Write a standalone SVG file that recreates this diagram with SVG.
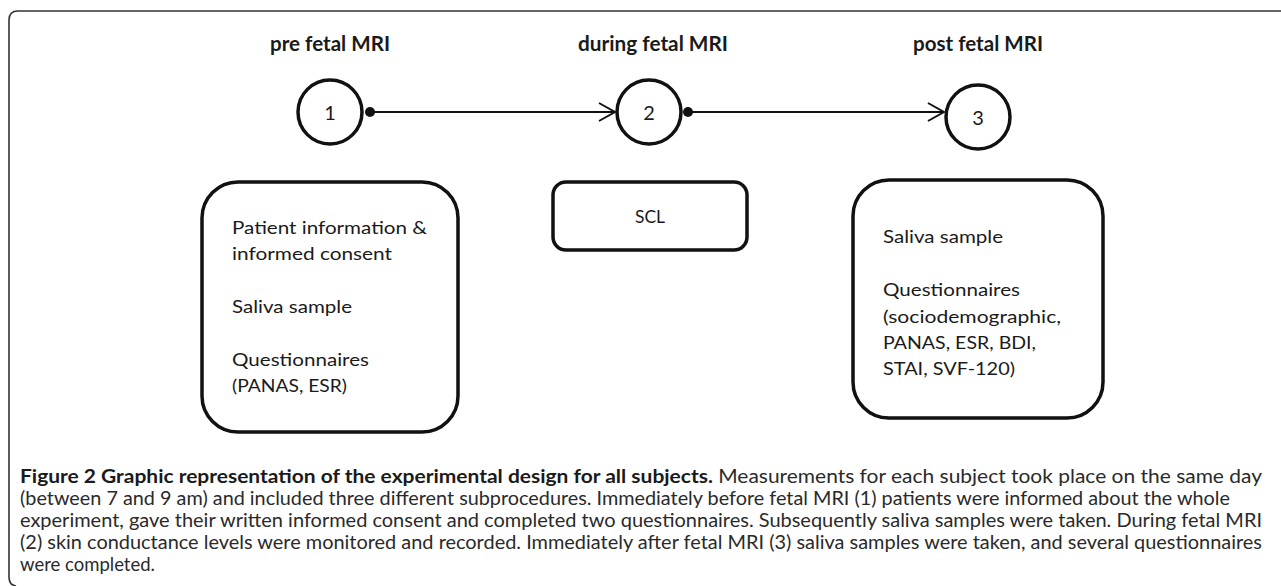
<svg xmlns="http://www.w3.org/2000/svg" width="1281" height="586" viewBox="0 0 1281 586">
<style>
.title{font-family:Lato,"Liberation Sans",sans-serif;font-weight:bold;font-size:20px;fill:#1a1a1a;text-anchor:middle}
.num{font-family:Lato,"Liberation Sans",sans-serif;font-size:20px;fill:#1a1a1a;text-anchor:middle}
.box{fill:#fff;stroke:#111;stroke-width:3.5}
.circ{fill:#fff;stroke:#111;stroke-width:3.5}
.bt{font-family:Lato,"Liberation Sans",sans-serif;font-size:17.5px;fill:#1a1a1a}
.cap{font-family:Lato,"Liberation Sans",sans-serif;font-size:18.5px;fill:#2a2a2a}
.conn{stroke:#111;stroke-width:2;fill:none}
.dot{fill:#111}
</style>
<defs>
<marker id="chev" viewBox="0 0 20 20" refX="18" refY="10" markerWidth="20" markerHeight="20" markerUnits="userSpaceOnUse" orient="auto">
<path d="M2 1 L18 10 L2 19" fill="none" stroke="#111" stroke-width="2"/>
</marker>
</defs>
<rect width="1281" height="586" fill="#fff"/>
<path d="M1281 11 H18 Q9 11 9 20 V577 Q9 585 16 586" fill="none" stroke="#333" stroke-width="1.6"/>

<g id="connectors">
<line class="conn" x1="371" y1="112" x2="615" y2="112" marker-end="url(#chev)"/>
<circle class="dot" cx="370" cy="112" r="5"/>
<line class="conn" x1="688" y1="112" x2="944" y2="112" marker-end="url(#chev)"/>
<circle class="dot" cx="688" cy="112" r="5"/>
</g>

<g id="stage1">
<text class="title" x="330" y="51" textLength="120" lengthAdjust="spacingAndGlyphs">pre fetal MRI</text>
<circle class="circ" cx="330" cy="112" r="32"/>
<text class="num" x="330" y="120">1</text>
</g>
<g id="stage2">
<text class="title" x="653" y="51" textLength="150" lengthAdjust="spacingAndGlyphs">during fetal MRI</text>
<circle class="circ" cx="649" cy="112" r="32"/>
<text class="num" x="649" y="120">2</text>
</g>
<g id="stage3">
<text class="title" x="978" y="51" textLength="130" lengthAdjust="spacingAndGlyphs">post fetal MRI</text>
<circle class="circ" cx="978" cy="117" r="32"/>
<text class="num" x="978" y="125">3</text>
</g>

<g id="box1">
<rect class="box" x="202" y="182" width="256" height="250" rx="36"/>
<text class="bt" x="232" y="234" textLength="195" lengthAdjust="spacingAndGlyphs">Patient information &amp;</text>
<text class="bt" x="232" y="260" textLength="160" lengthAdjust="spacingAndGlyphs">informed consent</text>
<text class="bt" x="232" y="313" textLength="120" lengthAdjust="spacingAndGlyphs">Saliva sample</text>
<text class="bt" x="232" y="366" textLength="137" lengthAdjust="spacingAndGlyphs">Questionnaires</text>
<text class="bt" x="232" y="392" textLength="115" lengthAdjust="spacingAndGlyphs">(PANAS, ESR)</text>
</g>

<g id="box2">
<rect class="box" x="553" y="182" width="194" height="68" rx="13"/>
<text class="bt" x="650" y="223" text-anchor="middle">SCL</text>
</g>

<g id="box3">
<rect class="box" x="853" y="180" width="250" height="238" rx="36"/>
<text class="bt" x="883" y="243" textLength="120" lengthAdjust="spacingAndGlyphs">Saliva sample</text>
<text class="bt" x="883" y="296" textLength="137" lengthAdjust="spacingAndGlyphs">Questionnaires</text>
<text class="bt" x="883" y="323" textLength="178" lengthAdjust="spacingAndGlyphs">(sociodemographic,</text>
<text class="bt" x="883" y="349" textLength="153" lengthAdjust="spacingAndGlyphs">PANAS, ESR, BDI,</text>
<text class="bt" x="883" y="375" textLength="132" lengthAdjust="spacingAndGlyphs">STAI, SVF-120)</text>
</g>

<g id="caption">
<text class="cap" x="20" y="483" textLength="1242" lengthAdjust="spacingAndGlyphs"><tspan font-weight="bold" fill="#1a1a1a">Figure 2 Graphic representation of the experimental design for all subjects.</tspan> Measurements for each subject took place on the same day</text>
<text class="cap" x="20" y="505" textLength="1210" lengthAdjust="spacingAndGlyphs">(between 7 and 9 am) and included three different subprocedures. Immediately before fetal MRI (1) patients were informed about the whole</text>
<text class="cap" x="20" y="527" textLength="1242" lengthAdjust="spacingAndGlyphs">experiment, gave their written informed consent and completed two questionnaires. Subsequently saliva samples were taken. During fetal MRI</text>
<text class="cap" x="20" y="549" textLength="1242" lengthAdjust="spacingAndGlyphs">(2) skin conductance levels were monitored and recorded. Immediately after fetal MRI (3) saliva samples were taken, and several questionnaires</text>
<text class="cap" x="20" y="571">were completed.</text>
</g>
</svg>
